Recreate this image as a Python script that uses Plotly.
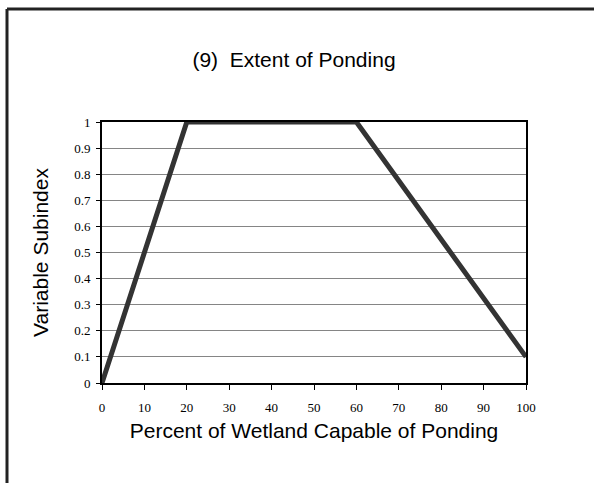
import plotly.graph_objects as go

x_vals = [0, 20, 60, 100]
y_vals = [0, 1, 1, 0.1]
x_ticks = [0, 10, 20, 30, 40, 50, 60, 70, 80, 90, 100]
y_ticks = [0, 0.1, 0.2, 0.3, 0.4, 0.5, 0.6, 0.7, 0.8, 0.9, 1]
y_tick_text = ["0", "0.1", "0.2", "0.3", "0.4", "0.5", "0.6", "0.7", "0.8", "0.9", "1"]

fig = go.Figure()
fig.add_trace(go.Scatter(x=x_vals, y=y_vals, mode="lines",
                         line=dict(color="#333333", width=5), showlegend=False,
                         cliponaxis=False))

W, H = 594, 483
L, R, T, B = 102, 526, 122, 383
pw, ph = R - L, B - T

def px(xp):
    return (xp - L) / pw

def py(yp):
    return (B - yp) / ph

fig.update_layout(
    width=W, height=H,
    margin=dict(l=L, r=W - R, t=T, b=H - B),
    paper_bgcolor="white", plot_bgcolor="white",
    title=dict(text="(9)  Extent of Ponding", x=px(294), xref="paper", xanchor="center",
               y=1 - 60 / H, yanchor="middle",
               font=dict(family="Liberation Sans, Arial", size=21, color="black")),
    xaxis=dict(range=[0, 100], tickvals=x_ticks, ticks="outside", ticklen=5,
               tickcolor="black", tickwidth=1, showgrid=False, zeroline=False,
               showline=True, linecolor="black", linewidth=2, mirror=True,
               ticklabelstandoff=6,
               tickfont=dict(family="Liberation Serif, Times New Roman", size=13, color="black"),
               title=dict(text="Percent of Wetland Capable of Ponding", standoff=10,
                          font=dict(family="Liberation Sans, Arial", size=21, color="black"))),
    yaxis=dict(range=[0, 1], tickvals=y_ticks, ticktext=y_tick_text, ticks="outside",
               ticklen=4, tickcolor="black", tickwidth=1, showgrid=True,
               gridcolor="#858585", gridwidth=1, zeroline=False,
               showline=True, linecolor="black", linewidth=2, mirror=True,
               ticklabelstandoff=3,
               tickfont=dict(family="Liberation Serif, Times New Roman", size=13, color="black"),
               title=dict(text="Variable Subindex", standoff=20,
                          font=dict(family="Liberation Sans, Arial", size=21, color="black"))),
    shapes=[
        dict(type="line", xref="paper", yref="paper", x0=px(7), x1=px(600),
             y0=py(9), y1=py(9), line=dict(color="#222222", width=3)),
        dict(type="line", xref="paper", yref="paper", x0=px(7), x1=px(7),
             y0=py(9), y1=py(490), line=dict(color="#222222", width=3)),
    ],
)

fig.write_html("out.html", config={"displayModeBar": False},
               post_script="document.body.style.margin='0px';")
